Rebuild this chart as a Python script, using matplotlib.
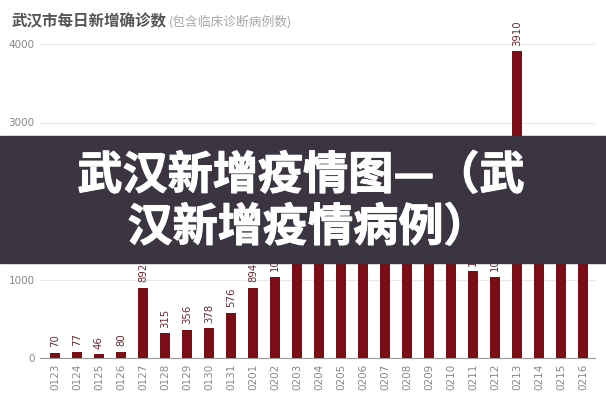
import matplotlib
matplotlib.use('Agg')
import matplotlib.pyplot as plt
import matplotlib.patheffects as pe
from matplotlib.patches import Rectangle

plt.rcParams['font.family'] = ['Noto Sans CJK SC', 'DejaVu Sans']

# daily new confirmed cases in Wuhan (incl. clinically diagnosed)
dates = ['0123', '0124', '0125', '0126', '0127', '0128', '0129', '0130', '0131',
         '0201', '0202', '0203', '0204', '0205', '0206', '0207', '0208', '0209',
         '0210', '0211', '0212', '0213', '0214', '0215', '0216']
cases = [70, 77, 46, 80, 892, 315, 356, 378, 576,
         894, 1033, 1242, 1967, 1766, 1501, 1985, 1379, 1920,
         1552, 1104, 1032, 3910, 1923, 1548, 1690]
yticks = [0, 1000, 2000, 3000, 4000]

bar_color = '#7a0e16'
banner_color = '#3b3542'

fig = plt.figure(figsize=(6.06, 4.0), dpi=100)
ax = fig.add_axes([40/606, 42/400, 555/606, 314/400])

x = list(range(len(dates)))
ax.bar(x, cases, width=0.45, color=bar_color, zorder=2)
for xi, v in zip(x, cases):
    # labels of bars whose top sits behind the banner are not visible anyway
    if 1200 < v < 3000:
        continue
    ax.annotate(str(v), (xi, v), xytext=(0, 4), textcoords='offset points',
                rotation=90, ha='center', va='bottom', fontsize=7.3,
                color='#6b2a30', family='DejaVu Sans', annotation_clip=False)

ax.set_xlim(-0.68, 24.55)
ax.set_ylim(0, 4000)
ax.set_yticks(yticks)
ax.set_yticklabels([str(t) for t in yticks], fontsize=7.5, color='#888888',
                   family='DejaVu Sans')
ax.set_xticks(x)
ax.set_xticklabels(dates, rotation=90, fontsize=7.5, color='#888888',
                   family='DejaVu Sans')
ax.tick_params(axis='y', length=0, pad=4)
ax.tick_params(axis='x', length=0, pad=4)
ax.grid(axis='y', color='#e8e8e8', lw=0.8, zorder=0)
for s in ['top', 'right', 'left']:
    ax.spines[s].set_visible(False)
ax.spines['bottom'].set_color('#999999')

# title + subtitle
t = fig.text(12/606, 1 - 26/400, '武汉市每日新增确诊数', fontsize=11.2,
             fontweight='bold', color='#555555', va='baseline')
ax.annotate('(包含临床诊断病例数)', xy=(1, 0), xycoords=t, xytext=(1, 0),
            textcoords='offset points', fontsize=9.2, color='#a8a8a8',
            va='bottom', ha='left')

# dark banner over the chart
fig.patches.append(Rectangle((0, 1 - 263/400), 1, 127/400,
                             transform=fig.transFigure, color=banner_color,
                             zorder=10))
thick = [pe.withStroke(linewidth=0.8, foreground='white')]
fig.text(301/606, 1 - 176/400, '武汉新增疫情图—（武', fontsize=32.5,
         fontweight='heavy', color='white', ha='center', va='center',
         zorder=11, path_effects=thick)
fig.text(308/606, 1 - 228/400, '汉新增疫情病例）', fontsize=32.5,
         fontweight='heavy', color='white', ha='center', va='center',
         zorder=11, path_effects=thick)

plt.savefig('out.png', dpi=100)
